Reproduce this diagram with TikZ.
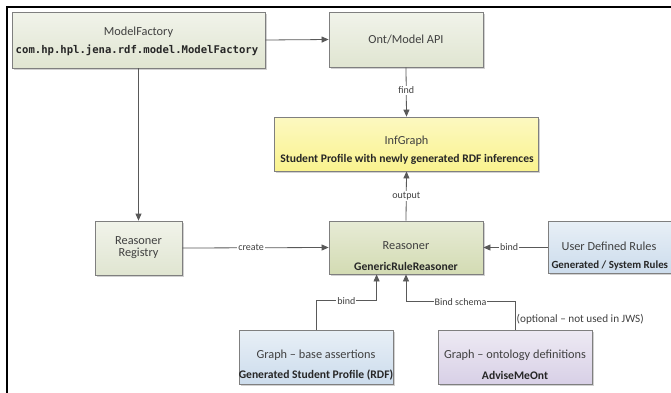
\documentclass[tikz,border=0pt]{standalone}
\usepackage{fontspec}
\setmainfont{Carlito}
\setmonofont{DejaVu Sans Mono}
\usetikzlibrary{arrows.meta,calc}

\definecolor{txt}{HTML}{404040}
\definecolor{edge}{HTML}{7F7F7F}
\definecolor{wire}{HTML}{595959}
\definecolor{grn}{HTML}{E0E5D1}
\definecolor{olv}{HTML}{D3DBB3}
\definecolor{yel}{HTML}{FAF38E}
\definecolor{blu}{HTML}{CCDCEC}
\definecolor{lav}{HTML}{D8D0E6}

\tikzset{
  box/.style={draw=edge, line width=0.8pt, text=txt, align=center,
    inner sep=0pt, anchor=center,
    preaction={fill=black, opacity=0.18, transform canvas={xshift=1.6pt,yshift=-1.6pt}}},
  greybox/.style={box, top color=grn!45!white, bottom color=grn},
  oliveb/.style={box, top color=olv!55!white, bottom color=olv},
  yelbox/.style={box, top color=yel!55!white, bottom color=yel},
  bluebox/.style={box, top color=blu!45!white, bottom color=blu},
  lavbox/.style={box, top color=lav!45!white, bottom color=lav},
  arr/.style={draw=wire, line width=0.8pt, -{Triangle[length=7pt,width=6pt]}},
  lbl/.style={fill=white, inner sep=1pt, text=txt, font=\fontsize{10}{11}\selectfont},
  ttl/.style={font=\fontsize{12.3}{14}\selectfont},
  sub/.style={font=\fontsize{11.6}{13}\selectfont\bfseries}
}

\begin{document}
\begin{tikzpicture}[x=1pt, y=-1pt]
\useasboundingbox (0,0) rectangle (671,392);
\clip (0,0) rectangle (671,392);
\fill[white] (0,0) rectangle (671,392);

% outer frame
\draw[black, line width=1.3pt] (7,395) -- (7,7) -- (675,7);

% boxes
\node[greybox, minimum width=253pt, minimum height=56pt] (mf) at (138.5,40) {};
\node[ttl, text=txt] at (138.5,32) {ModelFactory};
\node[text=black!85, font=\fontsize{10.6}{12}\ttfamily\bfseries] at (137,50) {com.hp.hpl.jena.rdf.model.ModelFactory};

\node[greybox, ttl, minimum width=154pt, minimum height=55pt] (ont) at (406,39.5) {Ont/Model API};

\node[yelbox, minimum width=264pt, minimum height=54pt] (inf) at (406.5,144) {};
\node[ttl, text=txt] at (406.5,141) {InfGraph};
\node[sub, text=black!85] at (407,159.5) {Student Profile with newly generated RDF inferences};

\node[greybox, ttl, minimum width=87pt, minimum height=54pt, text width=80pt] (reg) at (138.5,248) {Reasoner\\[-2pt]Registry};

\node[oliveb, minimum width=154pt, minimum height=53pt] (rsn) at (406,247.5) {};
\node[ttl, text=txt] at (406,246) {Reasoner};
\node[sub, text=black!85] at (406,266) {GenericRuleReasoner};

\node[bluebox, minimum width=150pt, minimum height=52pt] (udr) at (623,247) {};
\node[ttl, text=txt] at (609,246) {User Defined Rules};
\node[sub, text=black!85, anchor=west, font=\fontsize{10.9}{13}\selectfont\bfseries] at (548,266) {Generated / System Rules};

\node[bluebox, minimum width=154pt, minimum height=54pt] (gba) at (316,357) {};
\node[ttl, text=txt] at (316,355) {Graph -- base assertions};
\node[sub, text=black!85] at (316,375) {Generated Student Profile (RDF)};

\node[lavbox, minimum width=154pt, minimum height=54pt] (gon) at (515,357) {};
\node[ttl, text=txt] at (515,355) {Graph -- ontology definitions};
\node[sub, text=black!85] at (515,375) {AdviseMeOnt};

% connectors
\draw[arr] (mf.east) -- (ont.west);
\draw[arr] (mf.south) -- (reg.north);
\draw[arr] (ont.south) -- node[lbl, pos=0.46] {find} (inf.north);
\draw[arr] (rsn.north) -- node[lbl] {output} (inf.south);
\draw[arr] (reg.east) -- node[lbl, pos=0.47] {create} (rsn.west);
\draw[arr] (udr.west |- rsn.east) -- node[lbl, pos=0.6] {bind} (rsn.east);
\draw[arr] (gba.north) -- ++(0,-29) -| node[lbl, pos=0.25] {bind} ([xshift=48pt]rsn.south west);
\draw[arr] (gon.north) -- ++(0,-28) -| node[lbl, pos=0.25] {Bind schema} (rsn.south);
\node[anchor=west, text=txt, font=\fontsize{11.2}{12}\selectfont, inner sep=1pt] at ([xshift=0.5pt,yshift=10pt]gon.north) {(optional -- not used in JWS)};
\end{tikzpicture}
\end{document}
